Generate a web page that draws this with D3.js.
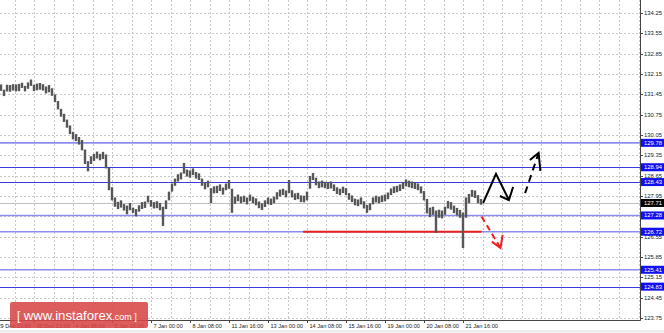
<!DOCTYPE html>
<html><head><meta charset="utf-8">
<script src="https://cdn.jsdelivr.net/npm/d3@7/dist/d3.min.js"></script>
<style>
html,body{margin:0;padding:0;background:#fff;}
svg{display:block;}
text{font-family:"Liberation Sans",Arial,sans-serif;}
</style></head>
<body><svg id="chart" width="664" height="333"></svg>
<script>
// ---- data ----
const highs = [
131.79,131.61,131.78,131.77,131.80,131.79,131.81,131.85,131.74,131.86,
131.96,131.78,131.82,131.84,131.80,131.72,131.77,131.66,131.45,131.22,
130.95,130.78,130.58,130.38,130.16,130.08,129.98,129.88,129.55,129.15,
129.32,129.40,129.48,129.40,129.47,129.38,128.92,128.25,127.90,127.75,
127.80,127.67,127.62,127.71,127.55,127.50,127.63,127.74,127.76,127.96,
127.81,127.74,127.77,127.71,127.58,127.80,128.10,128.38,128.55,128.70,
128.76,129.09,128.86,128.83,128.90,128.78,128.73,128.55,128.42,128.48,
128.22,128.28,128.30,128.35,128.24,128.38,128.50,128.20,127.93,128.00,
127.93,127.96,127.90,128.00,127.92,127.87,127.76,127.70,127.80,127.90,
127.86,127.93,128.08,128.17,128.20,128.14,128.50,128.15,128.04,128.06,
127.97,127.96,128.10,128.64,128.74,128.58,128.45,128.48,128.44,128.42,
128.45,128.35,128.25,128.20,128.27,128.22,128.05,127.97,127.86,127.83,
127.90,127.77,127.64,127.70,127.90,127.96,127.93,127.97,128.00,128.07,
128.21,128.28,128.30,128.35,128.42,128.52,128.48,128.45,128.42,128.38,
128.28,128.12,127.85,127.55,127.58,127.45,127.48,127.45,127.58,127.78,
127.74,127.62,127.54,127.47,127.38,127.90,128.02,128.16,128.14,127.98,
127.85];
const lows = [
131.57,131.39,131.55,131.54,131.58,131.55,131.56,131.67,131.55,131.64,
131.74,131.56,131.59,131.61,131.58,131.48,131.52,131.40,131.18,130.93,
130.68,130.50,130.30,130.08,129.90,129.84,129.72,129.52,129.05,128.80,
129.05,129.16,129.24,129.18,129.22,128.90,128.15,127.80,127.58,127.50,
127.55,127.45,127.32,127.46,127.37,127.25,127.41,127.50,127.54,127.73,
127.58,127.52,127.53,127.46,126.92,127.50,127.80,128.10,128.30,128.45,
128.52,128.72,128.62,128.58,128.67,128.55,128.50,128.30,128.18,128.25,
127.71,128.04,128.05,128.12,128.00,128.15,128.20,127.37,127.68,127.77,
127.70,127.74,127.66,127.78,127.70,127.63,127.53,127.47,127.57,127.67,
127.64,127.70,127.83,127.93,127.98,127.90,128.05,127.90,127.81,127.84,
127.74,127.73,127.80,128.20,128.50,128.32,128.22,128.25,128.22,128.19,
128.21,128.12,128.02,127.98,128.05,127.98,127.82,127.74,127.63,127.60,
127.66,127.52,127.37,127.46,127.66,127.73,127.70,127.74,127.77,127.84,
127.98,128.05,128.08,128.12,128.19,128.28,128.25,128.22,128.19,128.15,
128.04,127.80,127.35,127.22,127.30,126.68,127.20,127.18,127.30,127.52,
127.48,127.36,127.28,127.20,126.16,127.20,127.70,127.92,127.88,127.70,
127.65];
const priceTicks = [134.25,133.55,132.85,132.15,131.45,130.75,130.05,129.35,128.65,127.95,127.25,126.55,125.85,125.15,124.45,123.75];
const dateLabels = ["29 Dec 13:00","30 Dec 21:00","4 Jan 08:00","5 Jan 16:00","7 Jan 00:00","8 Jan 08:00","11 Jan 16:00","13 Jan 00:00","14 Jan 08:00","15 Jan 16:00","19 Jan 00:00","20 Jan 08:00","21 Jan 16:00"];
const dateTickBars = [-2,11,24,37,50,63,76,89,102,115,128,141,154];
const levelsDark = [128.94,128.43,124.83];
const levelsLight = [129.78,127.28,126.72,125.41];
const currentPrice = 127.71;
const supportStart = 100.7, supportEnd = 160.2, supportPrice = 126.72;
// forecast arrows: [barIndex, price]
const upSolid = [[160.7,127.71],[165,128.71],[169.3,127.81]];
const upSolidHead = [[166.3,127.95],[169.3,127.81],[170.7,128.26]];
const upDashed = [[174.7,128.05],[179.2,129.43]];
const upDashedHead = [[176.3,129.19],[179.2,129.43],[179.8,128.81]];
const downDashed = [[160.2,127.24],[166.5,126.16]];
const downDashedHead = [[163.6,126.38],[166.5,126.16],[167.2,126.61]];

// ---- layout ----
const W = 664, H = 333, plotR = 640, plotB = 320;
const svg = d3.select("#chart");
const x = d3.scaleLinear().domain([0,160]).range([1,481]);
const y = d3.scaleLinear().domain([123.75,134.25]).range([318,13]);

const g = svg.append("g");
svg.append("rect").attr("x",0).attr("y",330).attr("width",W).attr("height",3).attr("fill","#eeeeee");

// grid
const gridBars = d3.range(-2, 220, 6.5).filter(b => x(b) > 0 && x(b) < plotR);
g.selectAll("line.vg").data(gridBars).join("line")
  .attr("x1",d=>Math.round(x(d))+0.5).attr("x2",d=>Math.round(x(d))+0.5)
  .attr("y1",0).attr("y2",plotB)
  .attr("stroke","#c8c8c8").attr("stroke-dasharray","2,2").attr("stroke-width",1);
g.selectAll("line.hg").data(priceTicks).join("line")
  .attr("x1",0).attr("x2",plotR)
  .attr("y1",d=>Math.round(y(d))+0.5).attr("y2",d=>Math.round(y(d))+0.5)
  .attr("stroke","#c8c8c8").attr("stroke-dasharray","2,2").attr("stroke-width",1);

// current price line
g.append("line").attr("x1",0).attr("x2",plotR)
  .attr("y1",Math.round(y(currentPrice))+0.5).attr("y2",Math.round(y(currentPrice))+0.5)
  .attr("stroke","#c0c0c0").attr("stroke-width",1);

// levels
g.selectAll("line.ll").data(levelsLight).join("line")
  .attr("x1",0).attr("x2",plotR)
  .attr("y1",d=>y(d)).attr("y2",d=>y(d))
  .attr("stroke","#8c8cf0").attr("stroke-width",1.6);
g.selectAll("line.ld").data(levelsDark).join("line")
  .attr("x1",0).attr("x2",plotR)
  .attr("y1",d=>Math.round(y(d))+0.5).attr("y2",d=>Math.round(y(d))+0.5)
  .attr("stroke","#3c3ce0").attr("stroke-width",1.2);

// support red line
g.append("line").attr("x1",x(supportStart)).attr("x2",x(supportEnd))
  .attr("y1",y(supportPrice)).attr("y2",y(supportPrice))
  .attr("stroke","#e82020").attr("stroke-width",2);

// bars
g.selectAll("line.bar").data(highs).join("line")
  .attr("x1",(d,i)=>x(i)).attr("x2",(d,i)=>x(i))
  .attr("y1",d=>y(d)).attr("y2",(d,i)=>y(lows[i]))
  .attr("stroke","#575757").attr("stroke-width",2.4);

// arrows
const line = d3.line().x(d=>x(d[0])).y(d=>y(d[1]));
function path(pts, color, dash){
  g.append("path").attr("d",line(pts)).attr("fill","none")
   .attr("stroke",color).attr("stroke-width",2).attr("stroke-linejoin","miter")
   .attr("stroke-dasharray",dash||null);
}
path(upSolid,"#000");
path(upSolidHead,"#000");
path(upDashed,"#000","7,5");
path(upDashedHead,"#000");
path(downDashed,"#f02020","6,4");
path(downDashedHead,"#f02020");

// axes frame
svg.append("line").attr("x1",plotR+0.5).attr("x2",plotR+0.5).attr("y1",0).attr("y2",plotB+0.5).attr("stroke","#444");
svg.append("line").attr("x1",0).attr("x2",plotR+0.5).attr("y1",plotB+0.5).attr("y2",plotB+0.5).attr("stroke","#444");

// price axis
const ra = svg.append("g");
ra.selectAll("line").data(priceTicks).join("line")
  .attr("x1",plotR).attr("x2",plotR+3)
  .attr("y1",d=>Math.round(y(d))+0.5).attr("y2",d=>Math.round(y(d))+0.5).attr("stroke","#444");
ra.selectAll("text").data(priceTicks).join("text")
  .attr("x",plotR+4).attr("y",d=>y(d)+2)
  .attr("font-size","5.9px").attr("fill","#222").text(d=>d.toFixed(2));

// level labels
function tag(p, bg){
  const yy = y(p);
  svg.append("rect").attr("x",plotR+1).attr("y",yy-4).attr("width",W-plotR-1).attr("height",8).attr("fill",bg);
  svg.append("text").attr("x",plotR+4).attr("y",yy+2).attr("font-size","5.9px").attr("fill","#fff").text(p.toFixed(2));
}
levelsLight.concat(levelsDark).forEach(p=>tag(p,"#1010f0"));
tag(currentPrice,"#000");

// date axis
const da = svg.append("g");
da.selectAll("line").data(dateTickBars).join("line")
  .attr("x1",d=>Math.round(x(d))+0.5).attr("x2",d=>Math.round(x(d))+0.5)
  .attr("y1",plotB).attr("y2",plotB+3).attr("stroke","#444");
da.selectAll("text").data(dateLabels).join("text")
  .attr("x",(d,i)=>x(dateTickBars[i])+2.5).attr("y",327.5)
  .attr("font-size","5.6px").attr("fill","#222").text(d=>d);

// watermark
const wm = svg.append("g");
wm.append("rect").attr("x",10).attr("y",302).attr("width",138).attr("height",26).attr("rx",2)
  .attr("fill","#d84545").attr("opacity",0.88);
const wt = wm.append("text").attr("x",17).attr("y",320).attr("fill","#fff");
wt.append("tspan").attr("font-size","12px").text("[ ");
wt.append("tspan").attr("font-size","13.2px").text("www.instaforex");
wt.append("tspan").attr("font-size","9px").text(".com ]");
</script></body></html>
